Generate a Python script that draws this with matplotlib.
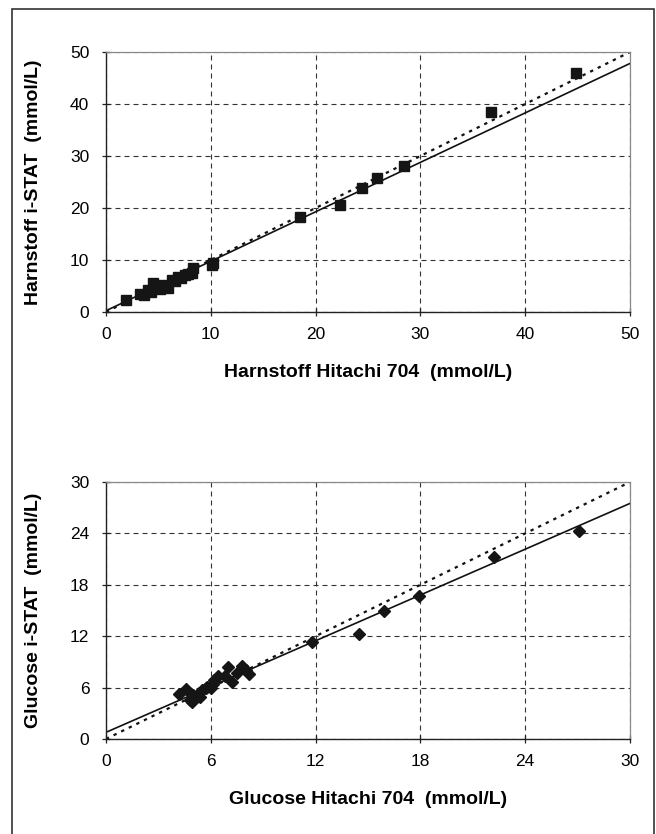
import matplotlib
matplotlib.use("Agg")
import matplotlib.pyplot as plt
from matplotlib.patches import Rectangle

# Harnstoff (urea), mmol/L
harn_hitachi = [1.9, 3.2, 3.6, 4.0, 4.3, 4.5, 4.8, 5.2, 5.5, 5.7, 5.9, 6.3, 6.6, 6.9,
                7.2, 7.5, 7.8, 8.2, 8.3, 10.1, 10.2, 18.5, 22.3, 24.4, 25.9, 28.4,
                36.7, 44.8]
harn_istat = [2.4, 3.5, 3.2, 4.2, 3.8, 5.5, 4.9, 4.4, 5.2, 5.0, 4.6, 6.1, 6.0, 6.8,
              6.6, 7.1, 7.4, 7.5, 8.4, 9.0, 9.4, 18.2, 20.5, 23.8, 25.7, 28.0,
              38.4, 46.0]
harn_fit_x = [0, 50]
harn_fit_y = [0.25, 47.8]
harn_ident = [0, 50]

# Glucose, mmol/L
gluc_hitachi = [4.2, 4.6, 4.8, 4.9, 5.0, 5.3, 5.4, 5.5, 5.7, 5.8, 6.0, 6.1, 6.2, 6.4,
                6.8, 7.0, 7.2, 7.5, 7.8, 8.0, 8.2, 11.8, 14.5, 15.9, 17.9, 22.2, 27.1]
gluc_istat = [5.2, 5.8, 4.5, 4.3, 5.1, 5.4, 4.9, 5.7, 5.9, 6.1, 6.0, 6.4, 6.9, 7.4,
              7.3, 8.4, 6.6, 7.7, 8.5, 8.0, 7.6, 11.3, 12.2, 14.9, 16.7, 21.2, 24.3]
gluc_fit_x = [0, 30]
gluc_fit_y = [0.78, 27.5]
gluc_ident = [0, 30]

harn_ticks = [0, 10, 20, 30, 40, 50]
gluc_ticks = [0, 6, 12, 18, 24, 30]

plt.rcParams['font.family'] = ['Liberation Sans', 'DejaVu Sans']

fig = plt.figure(figsize=(6.56, 8.34), dpi=100)
fig.add_artist(Rectangle((12 / 656, -0.05), 642 / 656, 1.05 - 9 / 834,
                         transform=fig.transFigure, fill=False, lw=1.2, ec='#333333'))

ax1 = fig.add_axes([106 / 656, 1 - 312 / 834, 524 / 656, 260 / 834])
ax2 = fig.add_axes([106 / 656, 1 - 739 / 834, 524 / 656, 257 / 834])


def style(ax, ticks, xlabel, ylabel):
    ax.set_xlim(ticks[0], ticks[-1])
    ax.set_ylim(ticks[0], ticks[-1])
    ax.set_xticks(ticks)
    ax.set_yticks(ticks)
    ax.grid(True, color='#333333', lw=0.8, ls=(0, (4.5, 3.6)))
    ax.set_axisbelow(True)
    for s in ['top', 'right']:
        ax.spines[s].set_color('#888888')
        ax.spines[s].set_linewidth(0.9)
    for s in ['left', 'bottom']:
        ax.spines[s].set_color('#222222')
        ax.spines[s].set_linewidth(1.0)
    ax.tick_params(direction='inout', length=6, width=0.9, color='#222222',
                   labelsize=12.5)
    ax.tick_params(axis='x', pad=8)
    ax.tick_params(axis='y', pad=9)
    ax.set_xlabel(xlabel, fontsize=14, fontweight='bold')
    ax.set_ylabel(ylabel, fontsize=14, fontweight='bold')
    ax.yaxis.set_label_coords(-0.122, 0.5)


ax1.plot(harn_ident, harn_ident, color='#111111', lw=1.6, ls=(0, (1.5, 2.3)))
ax1.plot(harn_fit_x, harn_fit_y, color='#111111', lw=1.2)
ax1.plot(harn_hitachi, harn_istat, ls='none', marker='s', ms=7.2, color='#151515')
style(ax1, harn_ticks, 'Harnstoff Hitachi 704  (mmol/L)', 'Harnstoff i-STAT  (mmol/L)')
ax1.xaxis.set_label_coords(0.5, -0.2)

ax2.plot(gluc_ident, gluc_ident, color='#111111', lw=1.6, ls=(0, (1.5, 2.3)))
ax2.plot(gluc_fit_x, gluc_fit_y, color='#111111', lw=1.2)
ax2.plot(gluc_hitachi, gluc_istat, ls='none', marker='D', ms=6.5, color='#151515')
style(ax2, gluc_ticks, 'Glucose Hitachi 704  (mmol/L)', 'Glucose i-STAT  (mmol/L)')
ax2.xaxis.set_label_coords(0.5, -0.202)

fig.savefig('out.png', dpi=100)
